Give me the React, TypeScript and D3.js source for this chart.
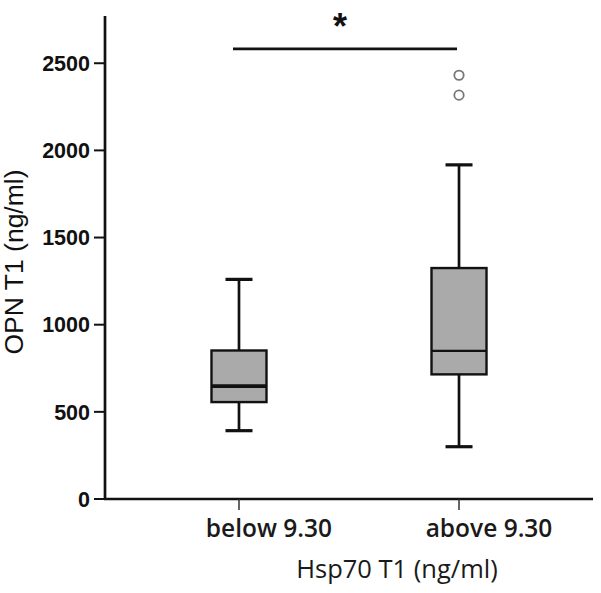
import React from "react";
import * as d3 from "d3";

const categories = ["below 9.30", "above 9.30"];
const whiskerLow = [392, 300];
const q1 = [556, 715];
const median = [648, 850];
const q3 = [852, 1325];
const whiskerHigh = [1260, 1917];
const outliers: number[][] = [[], [2431, 2317]];
const yTicks = [0, 500, 1000, 1500, 2000, 2500];
const sigLevel = 2582;

const W = 601;
const H = 593;

export default function App() {
  const y = d3.scaleLinear().domain([0, 2771]).range([499, 16]);
  const x = d3.scalePoint<string>().domain(categories).range([105, 593]).padding(0.609);
  const boxW = 55;
  const capW = 27;
  const medianW = [3.8, 2.4];

  return (
    <svg width={W} height={H} style={{ position: "absolute", left: 0, top: 0, background: "#fff" }}>
      {/* axes */}
      <line x1={105} x2={105} y1={y(2771)} y2={y(0) + 1} stroke="#111" strokeWidth={2.7} />
      <line x1={104} x2={593} y1={y(0)} y2={y(0)} stroke="#111" strokeWidth={2.7} />
      {yTicks.map((t) => (
        <g key={t}>
          <line x1={94} x2={105} y1={y(t)} y2={y(t)} stroke="#111" strokeWidth={2} />
          <text
            x={90}
            y={y(t)}
            dy="0.36em"
            textAnchor="end"
            fontFamily="Liberation Sans, Arial, sans-serif"
            fontWeight="bold"
            fontSize={21.5}
            fill="#111"
          >
            {t}
          </text>
        </g>
      ))}
      {categories.map((c) => (
        <g key={c}>
          <line x1={x(c)} x2={x(c)} y1={y(0)} y2={y(0) + 11} stroke="#333" strokeWidth={1.5} />
          <text
            x={(x(c) as number) + 30}
            y={537}
            textAnchor="middle"
            fontFamily="Open Sans, sans-serif"
            fontWeight={600}
            fontSize={24.5}
            fill="#1a1a1a"
          >
            {c}
          </text>
        </g>
      ))}
      <text
        x={397}
        y={578}
        textAnchor="middle"
        fontFamily="Open Sans, sans-serif"
        fontSize={25.5}
        fill="#1a1a1a"
      >
        Hsp70 T1 (ng/ml)
      </text>
      <text
        transform={`translate(23,262) rotate(-90)`}
        textAnchor="middle"
        fontFamily="Liberation Sans, Arial, sans-serif"
        fontSize={26.5}
        fill="#111"
      >
        OPN T1 (ng/ml)
      </text>

      {/* boxes */}
      {categories.map((c, i) => {
        const cx = x(c) as number;
        return (
          <g key={c}>
            <line x1={cx} x2={cx} y1={y(whiskerHigh[i])} y2={y(q3[i])} stroke="#111" strokeWidth={2.7} />
            <line x1={cx} x2={cx} y1={y(q1[i])} y2={y(whiskerLow[i])} stroke="#111" strokeWidth={2.7} />
            <line x1={cx - capW / 2} x2={cx + capW / 2} y1={y(whiskerHigh[i])} y2={y(whiskerHigh[i])} stroke="#111" strokeWidth={3.2} />
            <line x1={cx - capW / 2} x2={cx + capW / 2} y1={y(whiskerLow[i])} y2={y(whiskerLow[i])} stroke="#111" strokeWidth={3.2} />
            <rect
              x={cx - boxW / 2}
              y={y(q3[i])}
              width={boxW}
              height={y(q1[i]) - y(q3[i])}
              fill="#aaaaaa"
              stroke="#111"
              strokeWidth={2.4}
            />
            <line x1={cx - boxW / 2} x2={cx + boxW / 2} y1={y(median[i])} y2={y(median[i])} stroke="#111" strokeWidth={medianW[i]} />
            {outliers[i].map((o, j) => (
              <circle key={j} cx={cx} cy={y(o)} r={4.7} fill="none" stroke="#777" strokeWidth={1.8} />
            ))}
          </g>
        );
      })}

      {/* significance */}
      <line x1={233} x2={457} y1={y(sigLevel)} y2={y(sigLevel)} stroke="#111" strokeWidth={2.7} />
      <text
        x={340}
        y={39}
        textAnchor="middle"
        fontFamily="Liberation Sans, Arial, sans-serif"
        fontWeight="bold"
        fontSize={36}
        fill="#111"
      >
        *
      </text>
    </svg>
  );
}
